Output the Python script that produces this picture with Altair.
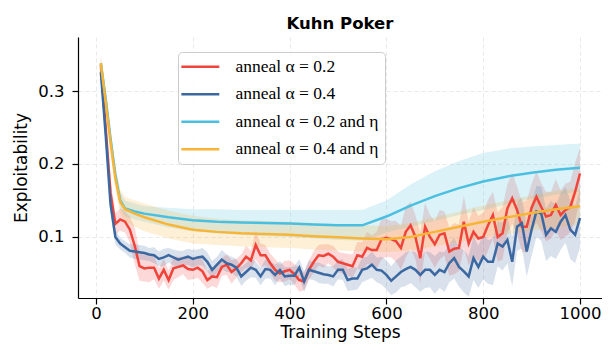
import altair as alt
import pandas as pd

LABELS = ["anneal α = 0.2", "anneal α = 0.4", "anneal α = 0.2 and η", "anneal α = 0.4 and η"]
COLORS = ["#f0433a", "#3b68a0", "#4bbfe0", "#f7b538"]

# noisy series, x = 10, 20, ..., 1000
steps = list(range(10, 1001, 10))

red_mean = [0.335, 0.25, 0.16, 0.118, 0.124, 0.121, 0.110, 0.088, 0.060, 0.057,
            0.058, 0.058, 0.043, 0.055, 0.041, 0.057, 0.059, 0.061, 0.056, 0.055,
            0.058, 0.053, 0.041, 0.046, 0.045, 0.059, 0.062, 0.052, 0.057, 0.064,
            0.073, 0.068, 0.089, 0.075, 0.075, 0.064, 0.055, 0.050, 0.053, 0.055,
            0.049, 0.041, 0.039, 0.055, 0.066, 0.075, 0.074, 0.077, 0.073, 0.066,
            0.064, 0.062, 0.060, 0.075, 0.073, 0.085, 0.082, 0.082, 0.097, 0.099,
            0.097, 0.094, 0.085, 0.107, 0.116, 0.100, 0.071, 0.114, 0.100, 0.090,
            0.103, 0.105, 0.080, 0.084, 0.085, 0.121, 0.091, 0.107, 0.098, 0.100,
            0.116, 0.130, 0.100, 0.105, 0.139, 0.153, 0.137, 0.114, 0.114, 0.140,
            0.155, 0.141, 0.128, 0.130, 0.144, 0.130, 0.137, 0.141, 0.162, 0.187]
red_hw = [0.010, 0.015, 0.020, 0.015, 0.015, 0.015, 0.018, 0.025, 0.020, 0.018,
          0.020, 0.016, 0.014, 0.015, 0.013, 0.016, 0.014, 0.012, 0.015, 0.013,
          0.014, 0.016, 0.012, 0.013, 0.015, 0.012, 0.014, 0.016, 0.013, 0.012,
          0.015, 0.013, 0.020, 0.016, 0.014, 0.013, 0.015, 0.012, 0.014, 0.013,
          0.014, 0.016, 0.012, 0.013, 0.015, 0.014, 0.016, 0.013, 0.015, 0.014,
          0.014, 0.015, 0.016, 0.018, 0.020, 0.022, 0.020, 0.025, 0.028, 0.026,
          0.025, 0.028, 0.030, 0.035, 0.032, 0.030, 0.035, 0.033, 0.030, 0.032,
          0.034, 0.030, 0.033, 0.035, 0.032, 0.036, 0.030, 0.034, 0.031, 0.033,
          0.035, 0.032, 0.034, 0.036, 0.033, 0.035, 0.032, 0.034, 0.036, 0.033,
          0.035, 0.033, 0.034, 0.032, 0.035, 0.034, 0.036, 0.035, 0.040, 0.035]

blue_mean = [0.326, 0.24, 0.145, 0.100, 0.091, 0.086, 0.081, 0.080, 0.079, 0.078,
             0.076, 0.075, 0.070, 0.072, 0.075, 0.072, 0.069, 0.071, 0.073, 0.070,
             0.072, 0.073, 0.066, 0.055, 0.062, 0.069, 0.064, 0.062, 0.058, 0.046,
             0.052, 0.058, 0.055, 0.046, 0.056, 0.055, 0.048, 0.055, 0.046, 0.047,
             0.047, 0.058, 0.039, 0.055, 0.053, 0.051, 0.049, 0.048, 0.046, 0.055,
             0.055, 0.041, 0.043, 0.043, 0.055, 0.057, 0.062, 0.055, 0.054, 0.048,
             0.040, 0.046, 0.052, 0.056, 0.059, 0.055, 0.048, 0.055, 0.055, 0.048,
             0.055, 0.052, 0.064, 0.071, 0.059, 0.053, 0.046, 0.071, 0.059, 0.073,
             0.066, 0.066, 0.091, 0.087, 0.096, 0.066, 0.114, 0.119, 0.080, 0.110,
             0.135, 0.132, 0.103, 0.112, 0.107, 0.121, 0.130, 0.110, 0.103, 0.126]
blue_hw = [0.010, 0.012, 0.012, 0.010, 0.008, 0.008, 0.009, 0.010, 0.010, 0.010,
           0.009, 0.011, 0.010, 0.012, 0.010, 0.011, 0.012, 0.010, 0.011, 0.012,
           0.011, 0.012, 0.013, 0.012, 0.011, 0.013, 0.012, 0.011, 0.012, 0.013,
           0.012, 0.013, 0.011, 0.012, 0.013, 0.012, 0.014, 0.012, 0.013, 0.012,
           0.013, 0.012, 0.014, 0.013, 0.012, 0.014, 0.013, 0.012, 0.014, 0.013,
           0.014, 0.015, 0.016, 0.015, 0.017, 0.016, 0.018, 0.017, 0.019, 0.020,
           0.020, 0.022, 0.021, 0.023, 0.022, 0.024, 0.023, 0.025, 0.024, 0.026,
           0.025, 0.027, 0.026, 0.028, 0.027, 0.029, 0.028, 0.030, 0.029, 0.031,
           0.030, 0.032, 0.031, 0.033, 0.032, 0.034, 0.033, 0.035, 0.034, 0.036,
           0.035, 0.037, 0.036, 0.038, 0.037, 0.039, 0.038, 0.040, 0.039, 0.040]

# smooth series
smooth_steps = [10, 20, 30, 40, 50, 60, 80, 100, 150, 200, 250, 300, 350, 400, 450,
                500, 550, 600, 650, 700, 750, 800, 850, 900, 950, 1000]
cyan_mean = [0.338, 0.29, 0.235, 0.185, 0.150, 0.139, 0.135, 0.132, 0.127, 0.123, 0.121,
             0.120, 0.119, 0.1185, 0.117, 0.116, 0.116, 0.128, 0.143, 0.156, 0.167,
             0.176, 0.183, 0.188, 0.192, 0.195]
cyan_lo = [0.330, 0.28, 0.225, 0.172, 0.138, 0.128, 0.124, 0.121, 0.113, 0.108, 0.105,
           0.103, 0.101, 0.100, 0.098, 0.096, 0.095, 0.106, 0.114, 0.122, 0.130,
           0.137, 0.145, 0.152, 0.158, 0.162]
cyan_hi = [0.346, 0.30, 0.245, 0.198, 0.162, 0.150, 0.146, 0.142, 0.140, 0.138, 0.138,
           0.137, 0.137, 0.137, 0.137, 0.137, 0.137, 0.150, 0.172, 0.190, 0.204,
           0.215, 0.221, 0.224, 0.226, 0.228]
orange_mean = [0.338, 0.285, 0.230, 0.180, 0.148, 0.138, 0.132, 0.127, 0.117, 0.110,
               0.107, 0.105, 0.104, 0.103, 0.101, 0.0995, 0.098, 0.097, 0.100, 0.107,
               0.114, 0.121, 0.127, 0.133, 0.138, 0.142]
orange_hw = [0.012, 0.013, 0.015, 0.016, 0.017, 0.017, 0.018, 0.019, 0.019, 0.019,
             0.018, 0.018, 0.018, 0.018, 0.018, 0.018, 0.018, 0.018, 0.019, 0.020,
             0.021, 0.022, 0.023, 0.024, 0.025, 0.025]

rows = []
for lab, xs, m, lo, hi in [
    (LABELS[0], steps, red_mean, [a - b for a, b in zip(red_mean, red_hw)], [a + b for a, b in zip(red_mean, red_hw)]),
    (LABELS[1], steps, blue_mean, [a - b for a, b in zip(blue_mean, blue_hw)], [a + b for a, b in zip(blue_mean, blue_hw)]),
    (LABELS[2], smooth_steps, cyan_mean, cyan_lo, cyan_hi),
    (LABELS[3], smooth_steps, orange_mean, [a - b for a, b in zip(orange_mean, orange_hw)], [a + b for a, b in zip(orange_mean, orange_hw)]),
]:
    for i, x in enumerate(xs):
        rows.append({"series": lab, "step": x, "mean": m[i], "lo": lo[i], "hi": hi[i]})
df = pd.DataFrame(rows)

xscale = alt.Scale(domain=[-37.2, 1045.5], nice=False, zero=False)
yscale = alt.Scale(domain=[0.0164, 0.374], nice=False, zero=False)

xax = alt.Axis(values=[0, 200, 400, 600, 800, 1000], title="Training Steps", format="d")
yax = alt.Axis(values=[0.1, 0.2, 0.3], title="Exploitability", format=".1f")

base = alt.Chart(df)
bands = base.mark_area(fillOpacity=0.2).encode(
    x=alt.X("step:Q", scale=xscale, axis=xax),
    y=alt.Y("lo:Q", scale=yscale, axis=yax),
    y2="hi:Q",
    fill=alt.Fill("series:N", scale=alt.Scale(domain=LABELS, range=COLORS), legend=None),
)
lines = base.mark_line(strokeWidth=2.5).encode(
    x=alt.X("step:Q", scale=xscale),
    y=alt.Y("mean:Q", scale=yscale),
    stroke=alt.Stroke("series:N", scale=alt.Scale(domain=LABELS, range=COLORS), sort=LABELS, legend=alt.Legend(
        title=None, orient="none", legendX=100, legendY=15,
        symbolType="M-2.4,0H5.6", symbolSize=90, symbolStrokeWidth=2.5,
        labelFont="Liberation Serif", labelFontSize=17.5, labelColor="black",
        labelOffset=34, rowPadding=8.5, padding=6,
        strokeColor="#cccccc", fillColor="rgba(255,255,255,0.85)", cornerRadius=4,
    )),
)

chart = alt.layer(bands, lines).resolve_scale(fill="independent", stroke="independent").properties(
    width=524, height=261,
    title=alt.TitleParams("Kuhn Poker", font="DejaVu Sans", fontSize=16.5, fontWeight="bold", color="black", offset=5),
    autosize=alt.AutoSizeParams(type="none"),
    padding={"left": 70, "top": 29, "right": 0, "bottom": 46},
).configure_view(stroke=None).configure_axis(
    labelFont="DejaVu Sans", labelFontSize=16.5, labelColor="black",
    titleFont="DejaVu Sans", titleFontSize=17, titleColor="black", titleFontWeight="normal",
    domainColor="black", domainWidth=1.2, tickColor="black", tickWidth=1.2, tickSize=6,
    labelPadding=8, grid=True, gridColor="#e3e3e3", gridDash=[4, 3], gridWidth=0.8,
).configure_axisX(labelPadding=1, titlePadding=3).configure_axisY(titlePadding=7)

chart.save("out.html", embed_options={"renderer": "svg", "actions": False})
